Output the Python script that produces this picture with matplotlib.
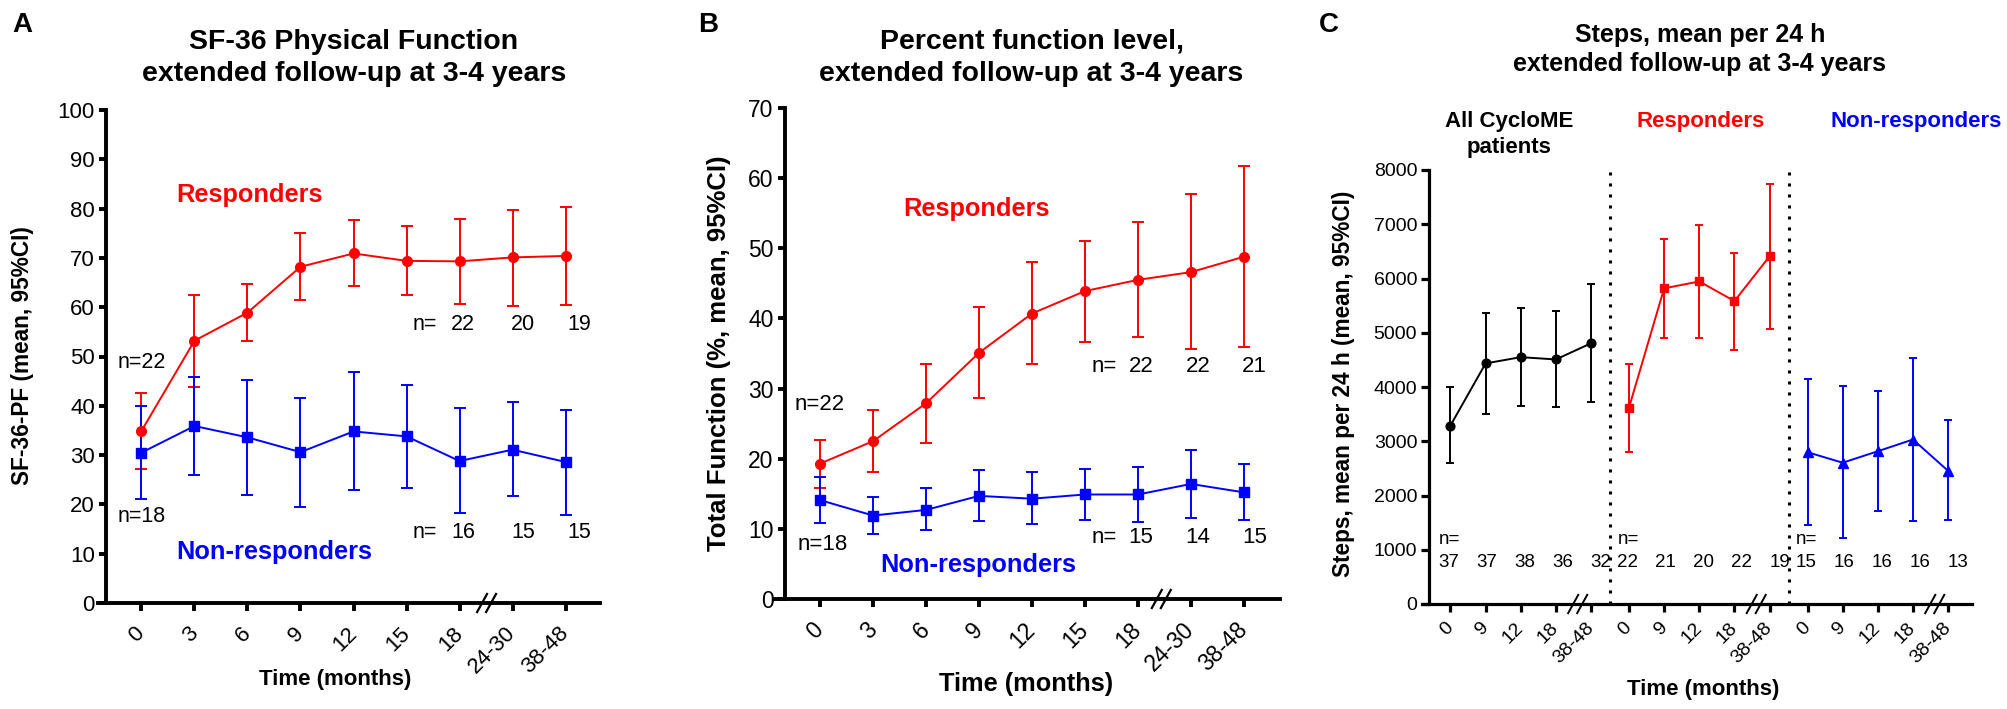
import matplotlib
matplotlib.use('Agg')
import matplotlib.pyplot as plt
from matplotlib.lines import Line2D
import numpy as np

plt.rcParams['font.family'] = ['Liberation Sans', 'DejaVu Sans']

RED = '#ff0000'
BLUE = '#0000ff'
BLACK = '#000000'

# ---------------- data ----------------
# Panel A: SF-36 Physical Function
a_labels = ['0', '3', '6', '9', '12', '15', '18', '24-30', '38-48']
a_resp_mean = [34.9, 53.2, 58.9, 68.2, 70.9, 69.4, 69.3, 70.1, 70.4]
a_resp_hi = [42.5, 62.4, 64.7, 75.1, 77.6, 76.4, 77.9, 79.8, 80.4]
a_resp_lo = [27.1, 43.9, 53.1, 61.4, 64.2, 62.4, 60.6, 60.2, 60.4]
a_nonr_mean = [30.5, 35.9, 33.6, 30.6, 34.8, 33.8, 28.8, 31.1, 28.6]
a_nonr_hi = [40.0, 45.8, 45.3, 41.5, 46.8, 44.2, 39.6, 40.7, 39.1]
a_nonr_lo = [21.0, 25.9, 21.9, 19.5, 22.9, 23.4, 18.2, 21.7, 17.9]
a_n_resp_base = 22
a_n_nonr_base = 18
a_n_resp_late = [22, 20, 19]
a_n_nonr_late = [16, 15, 15]

# Panel B: Percent function level
b_labels = ['0', '3', '6', '9', '12', '15', '18', '24-30', '38-48']
b_resp_mean = [19.3, 22.5, 27.9, 35.1, 40.7, 43.9, 45.5, 46.6, 48.8]
b_resp_hi = [22.7, 27.0, 33.5, 41.6, 48.0, 51.1, 53.7, 57.7, 61.8]
b_resp_lo = [15.8, 18.1, 22.3, 28.6, 33.5, 36.7, 37.3, 35.7, 35.9]
b_nonr_mean = [14.1, 11.9, 12.7, 14.7, 14.3, 14.9, 14.9, 16.4, 15.2]
b_nonr_hi = [17.4, 14.5, 15.8, 18.4, 18.1, 18.6, 18.8, 21.3, 19.2]
b_nonr_lo = [10.8, 9.2, 9.8, 11.1, 10.7, 11.2, 11.0, 11.5, 11.3]
b_n_resp_base = 22
b_n_nonr_base = 18
b_n_resp_late = [22, 22, 21]
b_n_nonr_late = [15, 14, 15]

# Panel C: Steps, mean per 24 h
c_labels = ['0', '9', '12', '18', '38-48']
c_all_mean = [3290, 4435, 4550, 4508, 4806]
c_all_hi = [3992, 5367, 5458, 5392, 5899]
c_all_lo = [2590, 3508, 3658, 3625, 3720]
c_resp_mean = [3619, 5818, 5946, 5584, 6409]
c_resp_hi = [4432, 6735, 6985, 6472, 7742]
c_resp_lo = [2805, 4909, 4909, 4690, 5075]
c_nonr_mean = [2798, 2604, 2816, 3032, 2454]
c_nonr_hi = [4155, 4025, 3933, 4541, 3395]
c_nonr_lo = [1449, 1215, 1707, 1523, 1551]
c_n_all = [37, 37, 38, 36, 32]
c_n_resp = [22, 21, 20, 22, 19]
c_n_nonr = [15, 16, 16, 16, 13]

# ---------------- figure ----------------
W, H = 2008, 709
fig = plt.figure(figsize=(W / 100, H / 100), dpi=100)


def rect(l, r, t, b):
    return [l / W, 1 - b / H, (r - l) / W, (b - t) / H]


def ftext(x, y, s, **kw):
    return fig.text(x / W, 1 - y / H, s, **kw)


def style_axes(ax, xlim, spine_x, ylim, yticks, lw, ylen, xlen, tfs, xpad):
    ax.set_xlim(*xlim)
    ax.set_ylim(*ylim)
    ax.spines['top'].set_visible(False)
    ax.spines['right'].set_visible(False)
    ax.spines['left'].set_position(('data', spine_x))
    for s in ('left', 'bottom'):
        ax.spines[s].set_linewidth(lw)
    ax.set_yticks(yticks)
    ax.tick_params(axis='y', direction='out', length=ylen, width=lw,
                   labelsize=tfs, pad=3)
    ax.tick_params(axis='x', direction='out', length=xlen, width=lw,
                   labelsize=tfs, pad=xpad)
    ax.patch.set_visible(False)


def series(ax, x, mean, lo, hi, color, marker, ms, lw, cap):
    m = np.asarray(mean, float)
    err = [m - np.asarray(lo, float), np.asarray(hi, float) - m]
    ax.errorbar(x, m, yerr=err, color=color, marker=marker, ms=ms, lw=lw,
                elinewidth=lw, capsize=cap, capthick=lw, clip_on=False,
                zorder=3)


def axis_break(ax, xb, lw):
    x0, y0 = ax.transData.transform((xb, ax.get_ylim()[0]))
    for off in (-4.5, 4.5):
        xs = [x0 + off - 5.5, x0 + off + 5.5]
        ys = [y0 - 10, y0 + 10]
        fig.add_artist(Line2D([v / W for v in xs], [v / H for v in ys],
                              transform=fig.transFigure, color='black',
                              lw=lw, solid_capstyle='butt'))


def set_xlabels(ax, x, labels, fs):
    ax.set_xticks(x)
    ax.set_xticklabels(labels, rotation=45, ha='right', va='center',
                       rotation_mode='anchor', fontsize=fs)


# ---------- Panel A ----------
axA = fig.add_axes(rect(98, 600, 110, 603))
xa = np.arange(len(a_labels))
style_axes(axA, (-0.82, 8.65), -0.67, (0, 100), np.arange(0, 101, 10),
           2.8, 5, 6, 16, 13.5)
set_xlabels(axA, xa, a_labels, 16)
series(axA, xa, a_resp_mean, a_resp_lo, a_resp_hi, RED, 'o', 7, 1.4, 4.2)
series(axA, xa, a_nonr_mean, a_nonr_lo, a_nonr_hi, BLUE, 's', 7, 1.4, 4.2)
axis_break(axA, 6.51, 1.6)
axA.text(-0.46, 48.7, 'n=%d' % a_n_resp_base, fontsize=15.5, va='center', ha='left')
axA.text(-0.46, 17.6, 'n=%d' % a_n_nonr_base, fontsize=15.5, va='center', ha='left')
axA.text(5.12, 56.4, 'n=', fontsize=15.5, va='center', ha='left')
axA.text(5.12, 14.2, 'n=', fontsize=15.5, va='center', ha='left')
for xx, nr, nn in zip([6.07, 7.2, 8.26], a_n_resp_late, a_n_nonr_late):
    axA.text(xx, 56.4, str(nr), fontsize=15.5, va='center', ha='center')
    axA.text(xx, 14.2, str(nn), fontsize=15.5, va='center', ha='center')
ftext(176, 195, 'Responders', color=RED, fontsize=18.3, weight='bold',
      ha='left', va='center')
ftext(176, 551.6, 'Non-responders', color=BLUE, fontsize=18.3, weight='bold',
      ha='left', va='center')
ftext(354, 41.7, 'SF-36 Physical Function', fontsize=20.5, weight='bold',
      ha='center', va='center')
ftext(354, 74, 'extended follow-up at 3-4 years', fontsize=20.5,
      weight='bold', ha='center', va='center')
ftext(23, 356, 'SF-36-PF (mean, 95%CI)', fontsize=16.3, weight='bold',
      rotation=90, ha='center', va='center')
ftext(335, 680, 'Time (months)', fontsize=16, weight='bold', ha='center',
      va='center')
ftext(22, 25, 'A', fontsize=20, weight='bold', ha='center', va='center')

# ---------- Panel B ----------
axB = fig.add_axes(rect(775, 1280, 108, 599))
xb = np.arange(len(b_labels))
style_axes(axB, (-0.85, 8.68), -0.67, (0, 70), np.arange(0, 71, 10),
           2.8, 5, 6, 16.5, 13.5)
set_xlabels(axB, xb, b_labels, 16.5)
series(axB, xb, b_resp_mean, b_resp_lo, b_resp_hi, RED, 'o', 7, 1.4, 4.2)
series(axB, xb, b_nonr_mean, b_nonr_lo, b_nonr_hi, BLUE, 's', 7, 1.4, 4.2)
axis_break(axB, 6.44, 1.6)
axB.text(-0.49, 27.7, 'n=%d' % b_n_resp_base, fontsize=16, va='center', ha='left')
axB.text(-0.43, 7.7, 'n=%d' % b_n_nonr_base, fontsize=16, va='center', ha='left')
axB.text(5.12, 33.1, 'n=', fontsize=16, va='center', ha='left')
axB.text(5.12, 8.7, 'n=', fontsize=16, va='center', ha='left')
for xx, nr, nn in zip([6.06, 7.13, 8.2], b_n_resp_late, b_n_nonr_late):
    axB.text(xx, 33.1, str(nr), fontsize=16, va='center', ha='center')
    axB.text(xx, 8.7, str(nn), fontsize=16, va='center', ha='center')
ftext(903, 209, 'Responders', color=RED, fontsize=18.3, weight='bold',
      ha='left', va='center')
ftext(880.6, 565, 'Non-responders', color=BLUE, fontsize=18.3,
      weight='bold', ha='left', va='center')
ftext(1031.5, 41.7, 'Percent function level,', fontsize=20.5,
      weight='bold', ha='center', va='center')
ftext(1031.5, 74, 'extended follow-up at 3-4 years', fontsize=20.5,
      weight='bold', ha='center', va='center')
ftext(719, 353, 'Total Function (%, mean, 95%CI)', fontsize=18.5,
      weight='bold', rotation=90, ha='center', va='center')
ftext(1026, 684, 'Time (months)', fontsize=18.3, weight='bold',
      ha='center', va='center')
ftext(708, 25, 'B', fontsize=20, weight='bold', ha='center', va='center')

# ---------- Panel C ----------
axC = fig.add_axes(rect(1422, 1972, 170, 604))
gap = 5.08
local = np.arange(len(c_labels))
groups = [
    (c_all_mean, c_all_lo, c_all_hi, BLACK, 'o', 6.3, c_n_all),
    (c_resp_mean, c_resp_lo, c_resp_hi, RED, 's', 6.3, c_n_resp),
    (c_nonr_mean, c_nonr_lo, c_nonr_hi, BLUE, '^', 6.8, c_n_nonr),
]
style_axes(axC, (-0.81, 14.84), -0.61, (0, 8000), np.arange(0, 8001, 1000),
           2.3, 5.5, 5.5, 14, 10)
xticks_all, xlabels_all = [], []
for g, (mn, lo, hi, col, mk, ms, nlist) in enumerate(groups):
    xg = local + g * gap
    xticks_all += list(xg)
    xlabels_all += c_labels
    series(axC, xg, mn, lo, hi, col, mk, ms, 1.4, 3)
    axis_break(axC, g * gap + 3.62, 1.4)
    nx = g * gap + local * 1.085 - 0.05
    axC.text(nx[0] - 0.28, 1198, 'n=', fontsize=13.5, va='center', ha='left')
    for xx, n in zip(nx, nlist):
        axC.text(xx, 774, str(n), fontsize=13.5, va='center', ha='center')
set_xlabels(axC, xticks_all, xlabels_all, 14)
for g in (1, 2):
    axC.axvline(g * gap - (gap - 4) / 2, color='black', lw=2.2,
                ls=(0, (1, 2.6)), zorder=1)
ftext(1700, 35, 'Steps, mean per 24 h', fontsize=18, weight='bold',
      ha='center', va='center')
ftext(1700, 64, 'extended follow-up at 3-4 years', fontsize=18,
      weight='bold', ha='center', va='center')
ftext(1509, 122, 'All CycloME', fontsize=16, weight='bold', ha='center',
      va='center')
ftext(1509, 148, 'patients', fontsize=16, weight='bold', ha='center',
      va='center')
ftext(1701, 122, 'Responders', fontsize=16, weight='bold', color=RED,
      ha='center', va='center')
ftext(1916, 122, 'Non-responders', fontsize=16, weight='bold', color=BLUE,
      ha='center', va='center')
ftext(1344, 384, 'Steps, mean per 24 h (mean, 95%CI)', fontsize=16.3,
      weight='bold', rotation=90, ha='center', va='center')
ftext(1703, 690, 'Time (months)', fontsize=16, weight='bold',
      ha='center', va='center')
ftext(1329, 25, 'C', fontsize=20, weight='bold', ha='center', va='center')

fig.savefig('out.png', dpi=100)
